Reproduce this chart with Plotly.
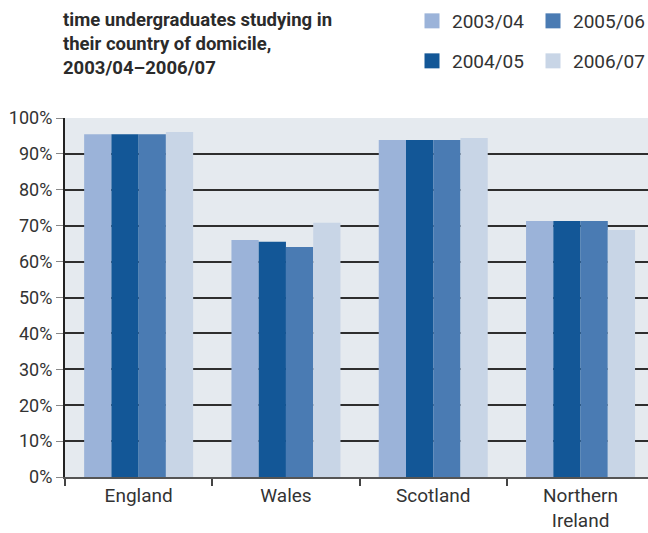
import plotly.graph_objects as go

# Share of full-time undergraduates studying in their country of domicile (%)
regions = ["England", "Wales", "Scotland", "Northern<br>Ireland"]
years = ["2003/04", "2004/05", "2005/06", "2006/07"]
share_2003_04 = [95.5, 66.0, 93.9, 71.3]
share_2004_05 = [95.5, 65.5, 93.9, 71.3]
share_2005_06 = [95.5, 64.1, 93.9, 71.3]
share_2006_07 = [96.1, 70.8, 94.4, 68.8]
y_ticks = [0, 10, 20, 30, 40, 50, 60, 70, 80, 90, 100]

series = [share_2003_04, share_2004_05, share_2005_06, share_2006_07]
colors = ["#9bb3d9", "#135797", "#4a7bb3", "#c8d5e6"]

W, H = 648, 533
FONT = "Roboto"
TEXT = "#333333"

fig = go.Figure()
for year, vals, col in zip(years, series, colors):
    fig.add_trace(go.Bar(x=regions, y=vals, name=year, marker=dict(color=col, line=dict(width=0)),
                         showlegend=False))

# legend keys: two columns, filled top-to-bottom
legend_slots = {
    "2003/04": ("legend", 452, 21),
    "2004/05": ("legend2", 452, 61),
    "2005/06": ("legend3", 573, 21),
    "2006/07": ("legend4", 573, 61),
}
for year, col in zip(years, colors):
    lg, _, _ = legend_slots[year]
    fig.add_trace(go.Scatter(x=[None], y=[None], mode="markers", name=year, legend=lg,
                             marker=dict(symbol="square", size=15, color=col, line=dict(width=0)),
                             hoverinfo="skip"))

legend_layout = {}
for year, (lg, tx, ty) in legend_slots.items():
    legend_layout[lg] = dict(
        xref="container", yref="container",
        x=(tx - 40) / W, y=1 - ty / H, xanchor="left", yanchor="middle",
        bgcolor="rgba(0,0,0,0)", borderwidth=0,
        font=dict(family=FONT, size=19, color=TEXT),
    )

fig.update_layout(
    width=W, height=H,
    margin=dict(l=65, r=0, t=118, b=56, autoexpand=False),
    paper_bgcolor="white",
    plot_bgcolor="#e5eaef",
    barmode="group",
    bargap=0.26,
    bargroupgap=0,
    title=dict(
        text="<b>time undergraduates studying in<br>their country of domicile,<br>2003/04–2006/07</b>",
        xref="container", yref="container",
        x=63 / W, xanchor="left", y=1 - 26 / H, yanchor="top",
        font=dict(family=FONT, size=18.5, color="#2b2b2b"),
    ),
    xaxis=dict(
        type="category",
        range=[-0.5, -0.5 + 583 / 147.3],
        tickson="boundaries",
        ticks="outside", ticklen=7, tickwidth=1.5, tickcolor="#444444",
        showline=True, linecolor="#555555", linewidth=2,
        showgrid=False,
        tickfont=dict(family=FONT, size=19, color=TEXT),
    ),
    yaxis=dict(
        range=[0, 100],
        tickvals=y_ticks,
        ticktext=[f"{v}%" for v in y_ticks],
        ticks="outside", ticklen=7, tickwidth=1, tickcolor="#888888",
        showline=True, linecolor="#222222", linewidth=2,
        showgrid=True, gridcolor="#2e2e2e", gridwidth=2,
        zeroline=False,
        tickfont=dict(family=FONT, size=18, color=TEXT),
    ),
    **legend_layout,
)

fig.write_html("out.html")
